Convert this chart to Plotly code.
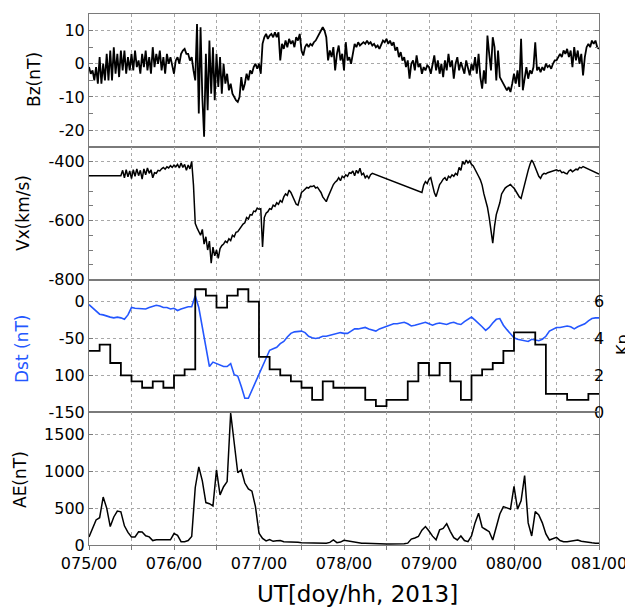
import numpy as np
import plotly.graph_objects as go

# ---------------- data (time in hours since 075/00, 2013) ----------------
HALF_HOURS = np.arange(0, 144.5, 0.5)
HOURS = np.arange(0, 145, 1)
KP_STARTS = np.arange(0, 147, 3)

day_ticks = [0, 24, 48, 72, 96, 120, 144]
day_labels = ["075/00", "076/00", "077/00", "078/00", "079/00", "080/00", "081/00"]

# IMF Bz (nT), half-hourly readings of the noisy trace
bz = [
    -1, -3, -2, -5, -1, -6, 2, -6, 0, -5, 3, -5, 4, -5, 5, -3, 3, -4, 4, -2, 4, -3, 2, -2,
    3, -2, 4, -1, 1, -3, 3, -1, 4, -2, 2, -3, 5, -1, 3, 0, 4, -2, 2, -3, 3, 0, 2, -1,
    -3, 1, 2, 0, 3, 4, 4.5, 3, 3, 1, 2, -2, -5, 12, -15, 11, -10, -22, 3, -14, 7, -9, 5, -11,
    3, -7, 2, -9, 0, -6, -3, -8, -6, -9, -10, -11, -11.5, -10, -4, -8, -6, -3, -5, -2, -3, -1, 0, -1.5,
    0, -3, 6, 8, 9, 7.5, 8.5, 9, 8, 9.5, 8, 9.5, 1, 6, 4.5, 7, 5, 7.5, 6, 7, 5, 8, 7, 9,
    4, 2.5, 5, 6, 5, 6, 5.5, 6.5, 7, 8, 9, 10, 11, 10, 8, 1, 4, 2, 5, -2, 3, 5.5, 1, 3,
    -2, 6.5, 1, 2, 0, 3, 6, 5, 6.5, 5.5, 6, 6.5, 6, 7, 6, 6.5, 5.5, 6, 5, 5.5, 4.5, 6, 7, 6.5,
    7.5, 6, 7, 5.5, 6.5, 4, 5, 2, 3.5, 1, 2, -1, 1, -4.5, 0, 1, -2, 2.5, -1, 0, -3, -1, -2, -0.5,
    -1, -3, -0.5, 2.5, -2, 1, -3, 0, -4, 1, -2, 3, -1, 1, -4.5, 0, 2, -2, 0.5, -1, -3, 1, -1, -3.5,
    0, -2, 2, -3, 3, -4, -7.5, -2, -6, 8.5, 3, -2, 8, 5, -5, 4, -4, -5, -6, -7, -8, -7, -8.5, -6,
    -3, -6, -2, -7, 7.5, -8, -4, -1, -4.5, -2, -3, -1, 6.5, -2, -1, -2.5, -1, -2, 0, -1, -0.5, -1.5, 0, 1,
    1, 2, 3, 2, 4, 3, 4.5, 2, 4, -1, 5, 1, 4, 0, 3, -3.5, 2, 5, 6, 5, 7, 6, 7, 5,
    4.5,
]

N = None
# Solar wind Vx (km/s), half-hourly; None = data gap (drawn as straight line)
vx = [
    -448, N, N, N, N, N, N, N, N, N, N, N, N, N, N, N, N, N, -448, -430, -455, -428, -452, -432,
    -458, -428, -450, -425, -448, -430, -460, -425, -445, -422, -440, -428, -455, -438, -440, -430, -432, -425, -420, -426, -418, -422, -414, -420,
    -412, -418, -410, -422, -405, -420, -410, -430, -412, -425, -400, -480, -610, -625, -640, -650, -630, -680, -655, -700, -670, -745, -690, -720,
    -700, -728, -695, -685, -680, -670, -675, -662, -668, -650, -655, -640, -638, -628, -622, -612, -608, -590, -595, -580, -582, -568, -570, -558,
    -562, -560, -690, -590, -575, -570, -560, -562, -548, -552, -540, -545, -532, -538, -520, -510, -515, -497, -505, -520, -535, -545, -548, -530,
    -505, -500, -495, -488, -490, -484, -485, -482, -490, -487, -496, -505, -520, -530, -536, -520, -505, -490, -478, -470, -465, -455, -465, -450,
    -455, -445, -450, -438, -440, -432, -448, -430, -440, -423, -445, -440, -455, -448, -457, -445, -440, N, N, N, N, N, N, N,
    N, N, N, N, N, N, N, N, N, N, N, N, N, N, N, N, N, N, N, N, -505, -480, -468, -475,
    -460, -455, -480, -505, -519, -500, -478, -470, -460, -455, -465, -450, -455, -445, -450, -440, -445, -420, -430, -400, -410, -395, -405, -398,
    -410, -415, -425, -440, -450, -462, -480, -510, -530, -555, -590, -630, -677, -620, -580, -560, -540, -510, -500, -490, -485, -480, -478, -485,
    -490, -500, -510, -520, -525, -500, -470, -450, -430, -410, -395, -405, -420, -440, -450, -457, -445, -440, -442, -438, -436, -435, -432, -430,
    -428, -432, -430, -438, -436, -440, -442, -432, -428, -435, -430, -426, -428, -420, -422, -417, N, N, N, N, N, N, N, N,
    -443,
]

# Dst (nT), hourly
dst = [
    -4, -8, -12, -17, -18, -20, -21, -22, -21, -22, -24, -18,
    -8, -9, -9, -9, -10, -8, -6, -5, -6, -8, -8, -10,
    -9, -12, -10, -8, -7, -7, 8, -8, -35, -65, -88, -82,
    -84, -86, -88, -88, -84, -99, -101, -115, -131, -131, -120, -108,
    -97, -86, -75, -66, -64, -62, -57, -54, -48, -43, -41, -41,
    -40, -42, -47, -49, -50, -49, -47, -47, -46, -45, -44, -42,
    -43, -43, -40, -37, -37, -36, -35, -37, -39, -40, -37, -35,
    -34, -32, -30, -30, -29, -28, -30, -33, -32, -31, -30, -28,
    -30, -32, -30, -29, -30, -31, -29, -28, -30, -31, -27, -24,
    -21, -25, -29, -34, -39, -35, -29, -24, -23, -32, -38, -44,
    -49, -51, -52, -53, -54, -51, -52, -53, -51, -47, -40, -37,
    -35, -35, -34, -33, -34, -37, -34, -32, -30, -26, -23, -22,
    -22,
]

# Kp, 3-hourly
kp = [
    3.33, 3.67, 2.67, 2.0, 1.67, 1.33, 1.67, 1.33,
    2.0, 2.33, 6.67, 6.33, 5.67, 6.33, 6.67, 6.0,
    3.0, 2.33, 2.0, 1.67, 1.33, 0.67, 1.67, 1.33,
    1.33, 1.33, 0.67, 0.33, 0.67, 0.67, 1.67, 2.67,
    2.0, 2.67, 1.67, 0.67, 2.0, 2.33, 2.67, 3.33,
    4.33, 4.33, 3.67, 1.0, 1.0, 0.67, 0.67, 1.0,
]

# AE index (nT), hourly
ae = [
    110, 220, 340, 370, 650, 500, 250, 380, 460, 450, 260, 170,
    110, 110, 180, 175, 125, 110, 60, 70, 70, 72, 70, 70,
    155, 130, 45, 45, 60, 115, 780, 1060, 870, 575, 560, 530,
    1020, 680, 790, 860, 1790, 1350, 980, 1020, 840, 760, 730, 520,
    160, 90, 55, 75, 50, 58, 60, 45, 45, 40, 38, 36,
    30, 28, 26, 25, 23, 22, 22, 25, 35, 68, 32, 40,
    65, 55, 45, 35, 28, 25, 23, 20, 18, 16, 15, 14,
    14, 14, 13, 14, 14, 18, 25, 80, 95, 115, 200, 250,
    190, 120, 70, 205, 225, 290, 185, 100, 68, 123, 60, 45,
    123, 300, 431, 240, 210, 180, 68, 250, 420, 520, 500, 486,
    795, 486, 600, 940, 300, 123, 454, 409, 300, 150, 68, 90,
    104, 60, 45, 45, 50, 55, 68, 50, 40, 35, 30, 25,
    23,
]

# ---------------- figure ----------------
FONT = "DejaVu Sans"
TICKF = dict(family=FONT, size=16, color="black")
FRAME = "#7a7a7a"
GRID = "#a8a8a8"
BLUE = "#2457ff"

fig = go.Figure()
fig.add_trace(go.Scatter(x=HALF_HOURS, y=bz, xaxis="x", yaxis="y", mode="lines",
                         line=dict(color="black", width=1.8)))
fig.add_trace(go.Scatter(x=HALF_HOURS, y=vx, xaxis="x2", yaxis="y2", mode="lines",
                         connectgaps=True, line=dict(color="black", width=1.5)))
fig.add_trace(go.Scatter(x=HOURS, y=dst, xaxis="x3", yaxis="y3", mode="lines",
                         line=dict(color=BLUE, width=1.6)))
fig.add_trace(go.Scatter(x=KP_STARTS, y=kp + [kp[-1]], xaxis="x3", yaxis="y5", mode="lines",
                         line=dict(color="black", width=1.8, shape="hv")))
fig.add_trace(go.Scatter(x=HOURS, y=ae, xaxis="x4", yaxis="y4", mode="lines",
                         line=dict(color="black", width=1.5)))

half_day = list(range(0, 145, 12))
bottom_text = [day_labels[day_ticks.index(v)] if v in day_ticks else "" for v in half_day]


def xax(anchor, labels):
    d = dict(range=[0, 144], anchor=anchor, tickmode="array", tickvals=half_day,
             showgrid=True, gridcolor=GRID, griddash="dot", gridwidth=1,
             showline=True, mirror=True, linecolor=FRAME, linewidth=1,
             zeroline=False, tickfont=TICKF, automargin=False)
    if labels:
        d.update(ticktext=bottom_text, showticklabels=True, ticks="outside",
                 ticklen=4, tickcolor=FRAME)
    else:
        d.update(showticklabels=False, ticks="")
    return d


def yax(domain, rng, vals, texts, minor=None, anchor="x"):
    d = dict(domain=domain, range=rng, anchor=anchor, tickmode="array", tickvals=vals,
             ticktext=texts, showgrid=True, gridcolor=GRID, griddash="dot", gridwidth=1,
             showline=True, mirror="ticks", linecolor=FRAME, linewidth=1,
             zeroline=False, tickfont=TICKF, ticks="inside", ticklen=4, tickcolor=FRAME,
             automargin=False)
    if minor is not None:
        d["minor"] = dict(tickmode="array", tickvals=minor, ticks="inside", ticklen=4,
                          tickcolor=FRAME, showgrid=False)
    return d


# The page body adds an 8 px offset, so the figure is 8 px smaller than the window.
fig.update_layout(
    width=625, height=601,
    margin=dict(l=81, r=34, t=6, b=64),
    paper_bgcolor="white", plot_bgcolor="white",
    showlegend=False,
    font=dict(family=FONT, color="black"),
    xaxis=xax("y", False),
    xaxis2=xax("y2", False),
    xaxis3=xax("y3", False),
    xaxis4=xax("y4", True),
    yaxis=yax([0.75, 1.0], [-25, 15], [-20, -10, 0, 10], ["-20", "-10", "0", "10"],
              minor=[-25, -15, -5, 5, 15], anchor="x"),
    yaxis2=yax([0.5, 0.75], [-800, -350], [-800, -600, -400], ["-800", "-600", "-400"],
               minor=[-750, -700, -650, -550, -500, -450, -350], anchor="x2"),
    yaxis3=yax([0.25, 0.5], [-150, 30], [-150, -100, -50, 0], ["-150", "100", "-50", "0"],
               anchor="x3"),
    yaxis4=yax([0.0, 0.25], [0, 1800], [0, 500, 1000, 1500], ["0", "500", "1000", "1500"],
               anchor="x4"),
    yaxis5=dict(overlaying="y3", side="right", anchor="x3", range=[0, 7.2],
                tickmode="array", tickvals=[0, 2, 4, 6], ticktext=["0", "2", "4", "6"],
                showgrid=False, showline=False, zeroline=False, ticks="",
                tickfont=TICKF, ticklabelstandoff=-6, automargin=False),
)


# axis titles placed as annotations (window pixel positions -> paper coords)
def px(xp):
    return (xp - 89) / 510.0


def py(yp):
    return (545 - yp) / 531.0


titles = [
    ("Bz(nT)", 34, 80, "black", 17),
    ("Vx(km/s)", 23, 213, "black", 17),
    ("Dst (nT)", 22, 349, BLUE, 17),
    ("AE(nT)", 20, 480, "black", 17),
    ("Kp", 622, 345, "black", 16),
]
for txt, xx, yy, col, sz in titles:
    fig.add_annotation(text=txt, xref="paper", yref="paper", x=px(xx), y=py(yy),
                       xanchor="center", yanchor="middle", textangle=-90, showarrow=False,
                       font=dict(family=FONT, size=sz, color=col))

fig.add_annotation(text="UT[doy/hh, 2013]", xref="paper", yref="paper",
                   x=px(357), y=py(594), xanchor="center", yanchor="middle",
                   showarrow=False, font=dict(family=FONT, size=23, color="black"))

fig.write_html("out.html")
